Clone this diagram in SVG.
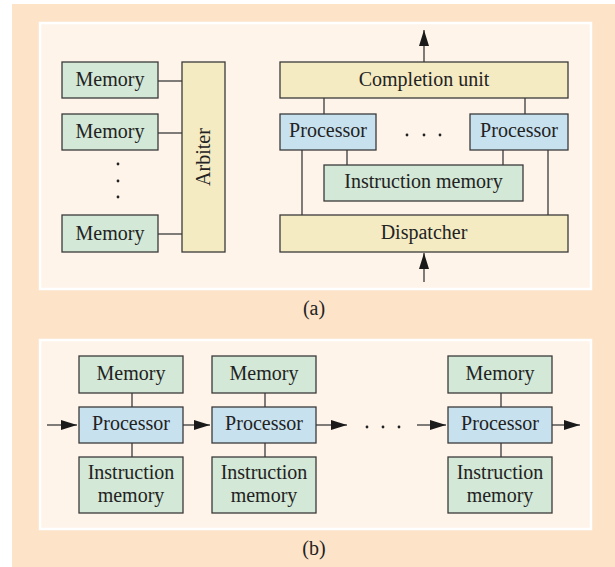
<svg xmlns="http://www.w3.org/2000/svg" width="615" height="567" viewBox="0 0 615 567">
<style>
.bg{fill:#FDE3C8}
.panel{fill:#FEF4EA;stroke:#FFFFFF;stroke-width:2.5}
.box{stroke:#3a3a3a;stroke-width:1.3}
.green{fill:#D3E8D6}
.blue{fill:#C8E1EF}
.yellow{fill:#F5EBC3}
text{font-family:"Liberation Serif","Times New Roman",serif;font-size:20px;fill:#222;text-anchor:middle}
.conn line{stroke:#3a3a3a;stroke-width:1.3}
.dot{fill:#222}
</style>
<defs>
<marker id="ah" markerUnits="userSpaceOnUse" markerWidth="16" markerHeight="10" refX="16" refY="5" orient="auto">
<path d="M0,0 L16,5 L0,10 Z" fill="#1a1a1a"/>
</marker>
</defs>
<rect class="bg" x="12" y="4" width="603" height="563"/>
<rect class="panel" x="40" y="23" width="551" height="266"/>
<rect class="panel" x="40" y="340" width="551" height="189"/>

<g class="conn">
<line x1="158" y1="81" x2="182" y2="81"/>
<line x1="158" y1="133" x2="182" y2="133"/>
<line x1="158" y1="234" x2="182" y2="234"/>
<line x1="324" y1="98" x2="324" y2="114"/>
<line x1="525" y1="98" x2="525" y2="114"/>
<line x1="347" y1="150" x2="347" y2="165"/>
<line x1="503" y1="150" x2="503" y2="165"/>
<line x1="302" y1="150" x2="302" y2="215"/>
<line x1="548" y1="150" x2="548" y2="215"/>
<line x1="424" y1="62" x2="424" y2="30" marker-end="url(#ah)"/>
<line x1="424" y1="282" x2="424" y2="253" marker-end="url(#ah)"/>
<line x1="132" y1="393" x2="132" y2="407"/>
<line x1="132" y1="443" x2="132" y2="457"/>
<line x1="265" y1="393" x2="265" y2="407"/>
<line x1="265" y1="443" x2="265" y2="457"/>
<line x1="501" y1="393" x2="501" y2="407"/>
<line x1="501" y1="443" x2="501" y2="457"/>
<line x1="47" y1="425" x2="77" y2="425" marker-end="url(#ah)"/>
<line x1="183" y1="425" x2="210" y2="425" marker-end="url(#ah)"/>
<line x1="316" y1="425" x2="347" y2="425" marker-end="url(#ah)"/>
<line x1="417" y1="425" x2="446" y2="425" marker-end="url(#ah)"/>
<line x1="552" y1="425" x2="580" y2="425" marker-end="url(#ah)"/>
</g>

<g id="mem1"><rect class="box green" x="62" y="62" width="96" height="36"/><text x="110" y="86">Memory</text></g>
<g id="mem2"><rect class="box green" x="62" y="114" width="96" height="36"/><text x="110" y="138">Memory</text></g>
<g id="mem3"><rect class="box green" x="62" y="215" width="96" height="37"/><text x="110" y="240">Memory</text></g>
<g id="memdots"><circle class="dot" cx="118" cy="164" r="1.4"/><circle class="dot" cx="118" cy="181" r="1.4"/><circle class="dot" cx="118" cy="197" r="1.4"/></g>
<g id="arbiter"><rect class="box yellow" x="182" y="62" width="43" height="190"/><text transform="translate(210,157) rotate(-90)" x="0" y="0">Arbiter</text></g>

<g id="completion"><rect class="box yellow" x="280" y="62" width="288" height="36"/><text x="424" y="86">Completion unit</text></g>
<g id="proc1"><rect class="box blue" x="280" y="114" width="96" height="36"/><text x="328" y="137">Processor</text></g>
<g id="proc2"><rect class="box blue" x="470" y="114" width="98" height="36"/><text x="519" y="137">Processor</text></g>
<g id="procdots"><circle class="dot" cx="407" cy="135" r="1.4"/><circle class="dot" cx="424" cy="135" r="1.4"/><circle class="dot" cx="440" cy="135" r="1.4"/></g>
<g id="imem"><rect class="box green" x="324" y="165" width="199" height="36"/><text x="423.5" y="188">Instruction memory</text></g>
<g id="dispatcher"><rect class="box yellow" x="280" y="215" width="288" height="37"/><text x="424" y="239">Dispatcher</text></g>

<text x="314" y="315">(a)</text>

<g id="b-mem1"><rect class="box green" x="79" y="356" width="104" height="37"/><text x="131" y="380">Memory</text></g>
<g id="b-proc1"><rect class="box blue" x="79" y="407" width="104" height="36"/><text x="131" y="430">Processor</text></g>
<g id="b-imem1"><rect class="box green" x="79" y="457" width="104" height="56"/><text x="131" y="479">Instruction</text><text x="131" y="502">memory</text></g>

<g id="b-mem2"><rect class="box green" x="212" y="356" width="104" height="37"/><text x="264" y="380">Memory</text></g>
<g id="b-proc2"><rect class="box blue" x="212" y="407" width="104" height="36"/><text x="264" y="430">Processor</text></g>
<g id="b-imem2"><rect class="box green" x="212" y="457" width="104" height="56"/><text x="264" y="479">Instruction</text><text x="264" y="502">memory</text></g>

<g id="b-dots"><circle class="dot" cx="367" cy="427" r="1.4"/><circle class="dot" cx="383" cy="427" r="1.4"/><circle class="dot" cx="399" cy="427" r="1.4"/></g>

<g id="b-mem3"><rect class="box green" x="448" y="356" width="104" height="37"/><text x="500" y="380">Memory</text></g>
<g id="b-proc3"><rect class="box blue" x="448" y="407" width="104" height="36"/><text x="500" y="430">Processor</text></g>
<g id="b-imem3"><rect class="box green" x="448" y="457" width="104" height="56"/><text x="500" y="479">Instruction</text><text x="500" y="502">memory</text></g>

<text x="314" y="555">(b)</text>
</svg>
